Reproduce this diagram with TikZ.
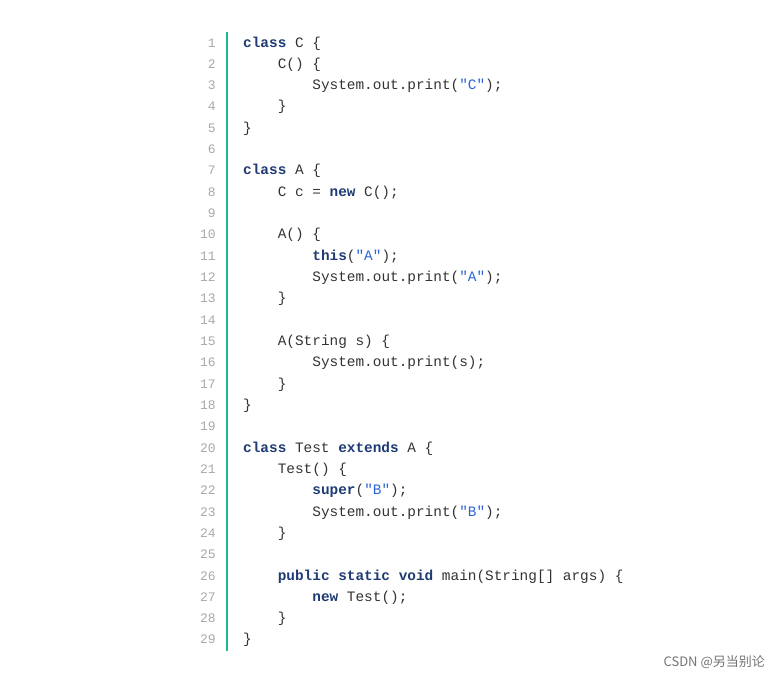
\documentclass[tikz,border=0pt]{standalone}
\usepackage{fontspec}
\newfontfamily\codefont{Liberation Mono}
\newfontfamily\cjk{Noto Sans CJK SC}
\definecolor{kwblue}{HTML}{1F3B73}
\definecolor{strblue}{HTML}{2B63D6}
\definecolor{codegray}{HTML}{333333}
\definecolor{numgray}{HTML}{A8A8A8}
\definecolor{bargreen}{HTML}{1DB992}
\newcommand{\kw}[1]{\textbf{\color{kwblue}#1}}
\newcommand{\str}[1]{{\color{strblue}#1}}
\tikzset{
  code/.style={anchor=base west, inner sep=0pt, font=\codefont\fontsize{14.4}{16}\selectfont, text=codegray},
  lnum/.style={anchor=base east, inner sep=0pt, font=\codefont\fontsize{13}{15}\selectfont, text=numgray}
}
\begin{document}
\begin{tikzpicture}[x=1pt,y=-1pt]
\useasboundingbox (0,0) rectangle (780,680);
% line numbers
\foreach \i in {1,...,29}
  \node[lnum] (n\i) at (216,{47+(\i-1)*21.32}) {\i};
\draw[bargreen, line width=2pt] (227,32) -- (227,651);
% code
\def\ln#1#2#3{\node[code] (c#1) at ({243+#2*34.6},{47+(#1-1)*21.32}) {#3};}
\ln{1}{0}{\kw{class} C \{}
\ln{2}{1}{C() \{}
\ln{3}{2}{System.out.print(\str{"C"});}
\ln{4}{1}{\}}
\ln{5}{0}{\}}
\ln{7}{0}{\kw{class} A \{}
\ln{8}{1}{C c = \kw{new} C();}
\ln{10}{1}{A() \{}
\ln{11}{2}{\kw{this}(\str{"A"});}
\ln{12}{2}{System.out.print(\str{"A"});}
\ln{13}{1}{\}}
\ln{15}{1}{A(String s) \{}
\ln{16}{2}{System.out.print(s);}
\ln{17}{1}{\}}
\ln{18}{0}{\}}
\ln{20}{0}{\kw{class} Test \kw{extends} A \{}
\ln{21}{1}{Test() \{}
\ln{22}{2}{\kw{super}(\str{"B"});}
\ln{23}{2}{System.out.print(\str{"B"});}
\ln{24}{1}{\}}
\ln{26}{1}{\kw{public} \kw{static} \kw{void} main(String[] args) \{}
\ln{27}{2}{\kw{new} Test();}
\ln{28}{1}{\}}
\ln{29}{0}{\}}
% watermark
\node[anchor=east, inner sep=0pt, font=\cjk\fontsize{13}{15}\selectfont, text=black!55] (mark) at (765,662) {CSDN @另当别论};
\end{tikzpicture}
\end{document}
